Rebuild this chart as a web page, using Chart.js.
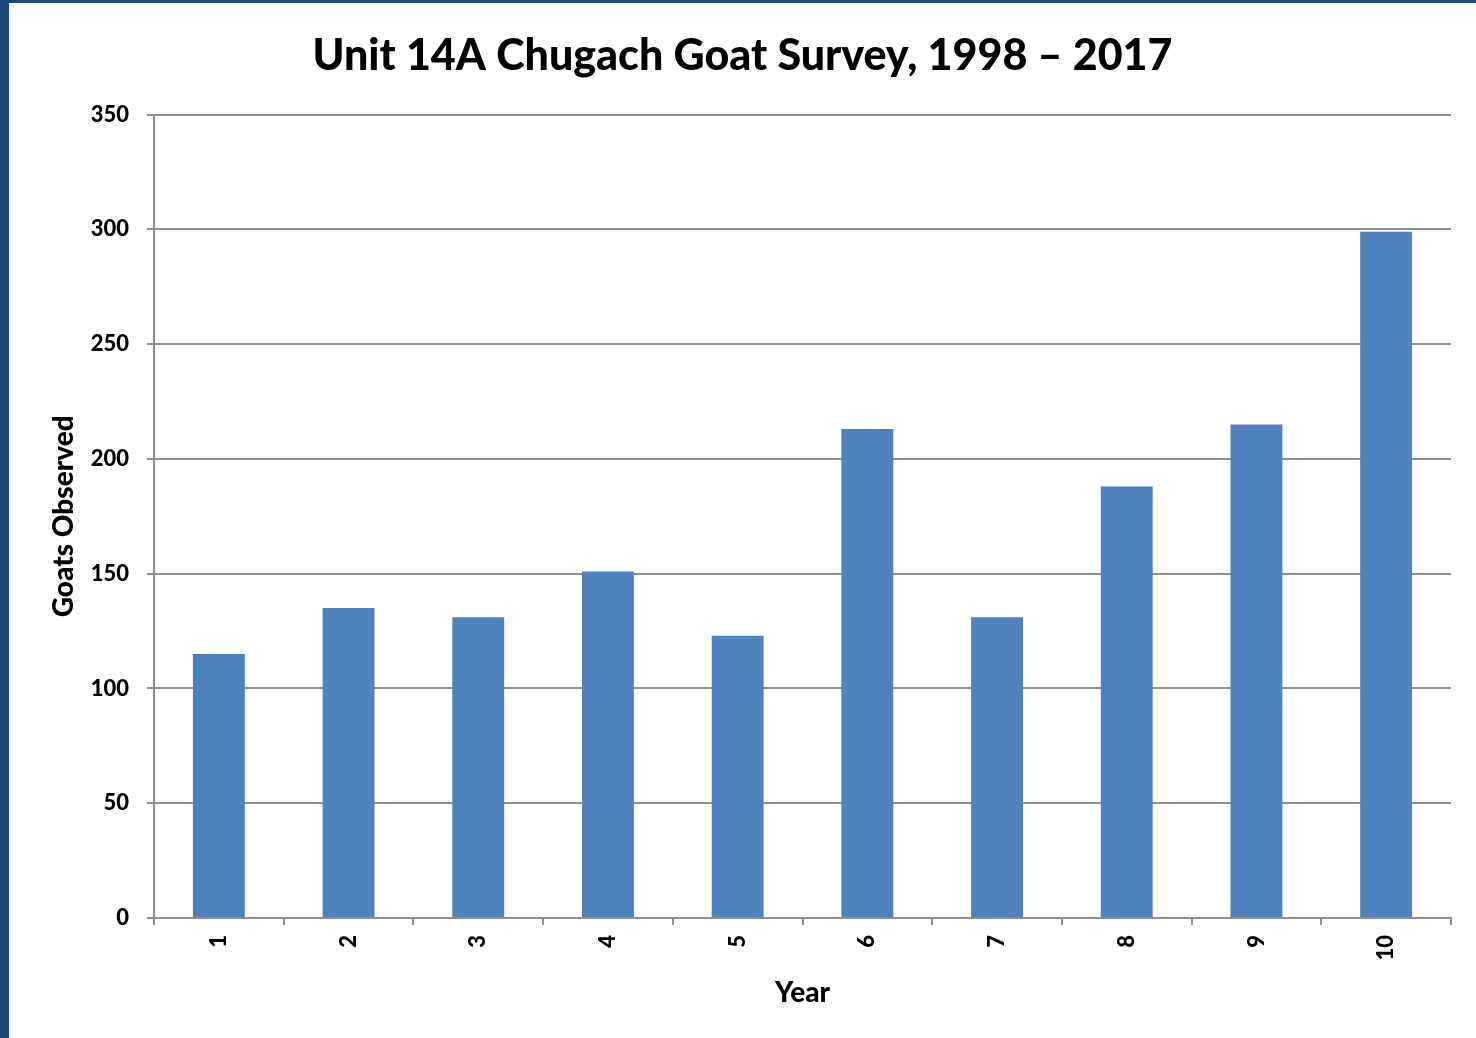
<!DOCTYPE html>
<html>
<head>
<meta charset="utf-8">
<script src="https://cdn.jsdelivr.net/npm/chart.js@4"></script>
<style>
  html, body { margin: 0; padding: 0; background: #fff; }
  #frame { position: absolute; left: 0; top: 0; width: 1467px; height: 1035px;
           border-left: 9px solid #1f497d; border-top: 3px solid #1f497d; background: #fff; }
  #wrap { position: relative; width: 1467px; height: 1035px; }
</style>
</head>
<body>
<div id="frame"><div id="wrap"><canvas id="c"></canvas></div></div>
<script>
const categories = ['1','2','3','4','5','6','7','8','9','10'];
const goatsObserved = [115, 135, 131, 151, 123, 213, 131, 188, 215, 299];
const yTicks = [0, 50, 100, 150, 200, 250, 300, 350];

const FONT = 'Lato, "Open Sans", sans-serif';
const GRID = '#8f8f8f';

new Chart(document.getElementById('c'), {
  type: 'bar',
  data: {
    labels: categories,
    datasets: [{
      label: 'Goats Observed',
      data: goatsObserved,
      backgroundColor: '#4f81bd',
      borderWidth: 0,
      barPercentage: 0.4,
      categoryPercentage: 1.0
    }]
  },
  options: {
    responsive: true,
    maintainAspectRatio: false,
    animation: false,
    layout: { padding: { left: 0, right: 0, top: 0, bottom: 0 } },
    plugins: {
      legend: { display: false },
      tooltip: { enabled: false },
      title: {
        display: true,
        text: 'Unit 14A Chugach Goat Survey, 1998 \u2013 2017',
        color: '#000',
        font: { family: FONT, size: 43, weight: 900 },
        padding: { top: 27, bottom: 33 }
      }
    },
    scales: {
      x: {
        grid: { display: true, drawOnChartArea: false, drawTicks: true, tickLength: 7, color: GRID, lineWidth: 2, offset: true },
        border: { display: true, color: GRID, width: 2 },
        ticks: { color: '#000', font: { family: FONT, size: 22, weight: 900 }, minRotation: 90, maxRotation: 90, padding: 10 },
        title: { display: true, text: 'Year', color: '#000', font: { family: FONT, size: 28, weight: 900 }, padding: { top: 4, bottom: 28 } },
        afterFit: (s) => { s.height = 120; s.paddingRight = 25; }
      },
      y: {
        min: 0, max: 350,
        afterBuildTicks: (s) => { s.ticks = yTicks.map(v => ({ value: v })); },
        grid: { color: GRID, lineWidth: 2, tickLength: 7, drawTicks: true },
        border: { display: true, color: GRID, width: 2 },
        ticks: { color: '#000', font: { family: FONT, size: 22, weight: 900 }, padding: 18 },
        title: { display: true, text: 'Goats Observed', color: '#000', font: { family: FONT, size: 28, weight: 900 }, padding: { top: 38, bottom: 0 } },
        afterFit: (s) => { s.width = 145; }
      }
    }
  }
});
</script>
</body>
</html>
